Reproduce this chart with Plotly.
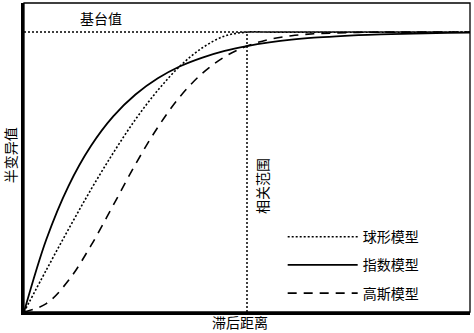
import plotly.graph_objects as go

# lag distance (range = 1)
lag = [0.0, 0.1, 0.2, 0.3, 0.4, 0.5, 0.6, 0.7, 0.8, 0.9, 1.0,
       1.1, 1.2, 1.3, 1.4, 1.5, 1.6, 1.7, 1.8, 1.9, 2.0]
spherical = [0.0, 0.150, 0.296, 0.437, 0.568, 0.688, 0.792, 0.879, 0.944, 0.986, 1.0,
             1.0, 1.0, 1.0, 1.0, 1.0, 1.0, 1.0, 1.0, 1.0, 1.0]
exponential = [0.0, 0.259, 0.451, 0.593, 0.699, 0.777, 0.835, 0.878, 0.909, 0.933, 0.950,
               0.963, 0.973, 0.980, 0.985, 0.989, 0.992, 0.994, 0.996, 0.997, 0.998]
gaussian = [0.0, 0.030, 0.113, 0.237, 0.381, 0.528, 0.660, 0.770, 0.853, 0.912, 0.950,
            0.974, 0.987, 0.994, 0.997, 0.999, 1.0, 1.0, 1.0, 1.0, 1.0]
names = ["球形模型", "指数模型", "高斯模型"]
SILL = 1.0
RANGE = 1.0
XMAX = 2.0
YMAX = 1.104

FONT = "Noto Sans CJK SC"

fig = go.Figure()
fig.add_trace(go.Scatter(x=lag, y=spherical, mode="lines", name=names[0], legendgroup="a",
                         line=dict(color="black", width=1.6, dash="2px,2px", shape="spline")))
fig.add_trace(go.Scatter(x=lag, y=exponential, mode="lines", name=names[1], legendgroup="b",
                         line=dict(color="black", width=1.8, shape="spline")))
fig.add_trace(go.Scatter(x=lag, y=gaussian, mode="lines", name=names[2], legendgroup="c",
                         line=dict(color="black", width=1.6, dash="9px,7px", shape="spline")))

# sill and range reference lines
fig.add_shape(type="line", x0=0, x1=XMAX, y0=SILL, y1=SILL, xref="x", yref="y",
              line=dict(color="black", width=1.5, dash="2px,2px"))
fig.add_shape(type="line", x0=RANGE, x1=RANGE, y0=0, y1=SILL, xref="x", yref="y",
              line=dict(color="black", width=1.5, dash="2px,2px"))
# thin frame
fig.add_shape(type="rect", x0=0, x1=1, y0=0, y1=1, xref="paper", yref="paper",
              line=dict(color="black", width=1.3), layer="above")

fig.add_annotation(x=0.345, y=SILL, xref="x", yref="y", text="基台值", showarrow=False,
                   xanchor="center", yanchor="bottom", yshift=2,
                   font=dict(family=FONT, size=14, color="black"))
fig.add_annotation(x=RANGE, y=0.45, xref="x", yref="y", text="相关范围", showarrow=False,
                   textangle=-90, xshift=15, xanchor="center", yanchor="middle",
                   font=dict(family=FONT, size=14, color="black"))
fig.add_annotation(x=-0.031, y=0.508, xref="paper", yref="paper", text="半变异值", showarrow=False,
                   textangle=-90, xanchor="center", yanchor="middle",
                   font=dict(family=FONT, size=14, color="black"))
fig.add_annotation(x=0.485, y=-0.033, xref="paper", yref="paper", text="滞后距离", showarrow=False,
                   xanchor="center", yanchor="middle",
                   font=dict(family=FONT, size=14, color="black"))

fig.update_layout(
    width=474, height=333,
    margin=dict(l=24, r=4, t=3, b=21),
    paper_bgcolor="white", plot_bgcolor="white",
    showlegend=True,
    legend=dict(x=0.58, y=0.294, xanchor="left", yanchor="top",
                font=dict(family=FONT, size=14, color="black"),
                bgcolor="rgba(0,0,0,0)", itemwidth=70, tracegroupgap=7,
                traceorder="grouped"),
    xaxis=dict(range=[0, XMAX], showgrid=False, zeroline=False, showticklabels=False,
               ticks="", showline=True, linecolor="black", linewidth=3),
    yaxis=dict(range=[0, YMAX], showgrid=False, zeroline=False, showticklabels=False,
               ticks="", showline=True, linecolor="black", linewidth=3),
)

fig.write_html("out.html")
